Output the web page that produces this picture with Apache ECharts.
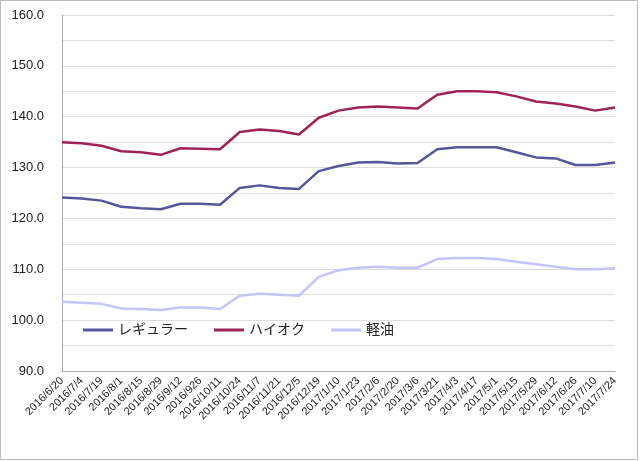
<!DOCTYPE html>
<html><head><meta charset="utf-8">
<script src="https://cdn.jsdelivr.net/npm/echarts@6/dist/echarts.min.js"></script>
<style>html,body{margin:0;background:#fff}#c{width:640px;height:461px}</style>
</head><body><div id="c"></div>
<script>
const dates = ['2016/6/20','2016/7/4','2016/7/19','2016/8/1','2016/8/15','2016/8/29','2016/9/12','2016/926','2016/10/11','2016/10/24','2016/11/7','2016/11/21','2016/12/5','2016/12/19','2017/1/10','2017/1/23','2017/2/6','2017/2/20','2017/3/6','2017/3/21','2017/4/3','2017/4/17','2017/5/1','2017/5/15','2017/5/29','2017/6/12','2017/6/26','2017/7/10','2017/7/24']
const regular = [124.1,123.9,123.5,122.3,122.0,121.8,122.9,122.9,122.7,126.0,126.5,126.0,125.8,129.3,130.3,131.0,131.1,130.8,130.9,133.6,134.0,134.0,134.0,133.0,132.0,131.8,130.5,130.5,131.0]
const high = [135.0,134.8,134.3,133.2,133.0,132.5,133.8,133.7,133.6,137.0,137.5,137.2,136.5,139.8,141.2,141.8,142.0,141.8,141.6,144.3,145.0,145.0,144.8,144.0,143.0,142.6,142.0,141.2,141.8]
const diesel = [103.6,103.4,103.2,102.3,102.2,102.0,102.5,102.5,102.2,104.8,105.2,105.0,104.8,108.5,109.8,110.3,110.5,110.3,110.3,112.0,112.2,112.2,112.0,111.5,111.0,110.5,110.0,110.0,110.2]

const chart = echarts.init(document.getElementById('c'))
const font = 'Liberation Sans, DejaVu Sans, Noto Sans CJK JP'
chart.setOption({
  animation: false,
  graphic: [{type: 'rect', shape: {x: 0.5, y: 0.5, width: 637, height: 459}, style: {fill: 'none', stroke: '#bbb', lineWidth: 1}}],
  grid: {left: 62, right: 25, top: 15, bottom: 90},
  legend: {
    left: 78, top: 318, itemWidth: 30, itemHeight: 3, itemGap: 26, icon: 'rect',
    textStyle: {fontSize: 14, color: '#222', fontFamily: font},
    data: ['レギュラー', 'ハイオク', '軽油']
  },
  xAxis: {
    type: 'category', data: dates, boundaryGap: false,
    axisLine: {lineStyle: {color: '#aaa'}}, axisTick: {show: false},
    axisLabel: {rotate: 45, fontSize: 11, color: '#222', interval: 0, fontFamily: font, margin: 8}
  },
  yAxis: {
    type: 'value', min: 90, max: 160, interval: 5,
    axisLine: {show: true, lineStyle: {color: '#aaa'}}, axisTick: {show: false},
    splitLine: {lineStyle: {color: '#ddd'}},
    axisLabel: {fontSize: 13, color: '#222', fontFamily: font, margin: 18,
      formatter: v => v % 10 === 0 ? v.toFixed(1) : ''}
  },
  series: [
    {name: 'レギュラー', type: 'line', data: regular, showSymbol: false, lineStyle: {width: 2.5, color: '#56569a'}, itemStyle: {color: '#56569a'}},
    {name: 'ハイオク', type: 'line', data: high, showSymbol: false, lineStyle: {width: 2.5, color: '#9e2458'}, itemStyle: {color: '#9e2458'}},
    {name: '軽油', type: 'line', data: diesel, showSymbol: false, lineStyle: {width: 2.5, color: '#c4c4fa'}, itemStyle: {color: '#c4c4fa'}}
  ]
})
</script></body></html>
